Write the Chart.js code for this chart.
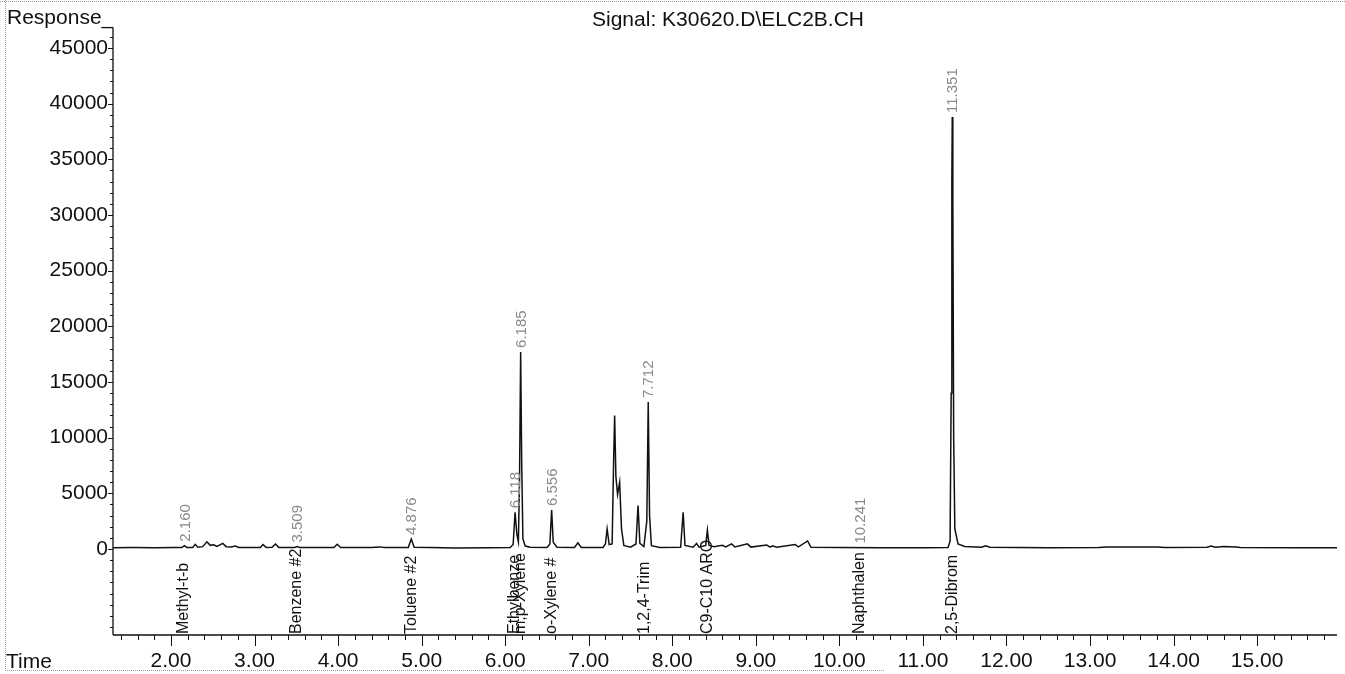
<!DOCTYPE html>
<html>
<head>
<meta charset="utf-8">
<script src="https://cdn.jsdelivr.net/npm/chart.js@4.4.0/dist/chart.umd.min.js"></script>
<style>
  html, body { margin: 0; padding: 0; background: #fff; }
  #wrap { position: relative; width: 1345px; height: 674px; }
</style>
</head>
<body>
<div id="wrap"><canvas id="chrom"></canvas></div>
<script>
// detector trace (time in min, response)
const traceTimes = [
  1.306, 1.55, 1.80, 2.05, 2.13, 2.16, 2.19, 2.26, 2.29, 2.32, 2.38, 2.43, 2.47, 2.51, 2.55,
  2.62, 2.66, 2.72, 2.77, 2.81, 3.00, 3.07, 3.10, 3.14, 3.21, 3.25, 3.29, 3.48, 3.509, 3.54,
  3.95, 3.99, 4.03, 4.40, 4.50, 4.55, 4.84, 4.876, 4.91, 5.10, 5.40, 5.80, 6.06, 6.095, 6.118,
  6.14, 6.158, 6.172, 6.185, 6.198, 6.212, 6.24, 6.30, 6.50, 6.535, 6.556, 6.575, 6.62, 6.83, 6.87,
  6.91, 7.17, 7.20, 7.22, 7.245, 7.28, 7.298, 7.31, 7.325, 7.345, 7.37, 7.392, 7.42, 7.50, 7.565,
  7.59, 7.612, 7.66, 7.695, 7.712, 7.728, 7.75, 7.85, 8.10, 8.13, 8.152, 8.25, 8.29, 8.32, 8.40,
  8.42, 8.44, 8.50, 8.60, 8.64, 8.71, 8.75, 8.90, 8.94, 9.13, 9.17, 9.20, 9.25, 9.47, 9.51,
  9.62, 9.66, 10.00, 10.50, 11.00, 11.30, 11.325, 11.338, 11.346, 11.351, 11.358, 11.368, 11.382, 11.42, 11.50,
  11.70, 11.75, 11.80, 12.50, 13.10, 13.20, 13.80, 13.90, 14.40, 14.45, 14.50, 14.60, 14.75, 14.80, 15.50,
  15.956
];
const traceResponses = [
  110, 125, 115, 130, 135, 300, 140, 145, 420, 160, 210, 650, 330, 380, 230,
  500, 210, 190, 270, 140, 125, 135, 400, 145, 150, 450, 145, 140, 220, 140,
  135, 420, 135, 140, 190, 135, 140, 900, 150, 125, 100, 110, 125, 400, 3300,
  1300, 650, 6500, 17700, 7500, 900, 260, 150, 135, 450, 3500, 600, 160, 145, 550,
  145, 135, 450, 1800, 400, 450, 8000, 12000, 6500, 4900, 6000, 1800, 320, 160, 450,
  3900, 500, 220, 2500, 13200, 3000, 300, 145, 160, 3300, 320, 160, 500, 160, 320,
  1700, 320, 210, 330, 180, 460, 180, 460, 170, 360, 160, 290, 150, 410, 200,
  720, 150, 125, 115, 120, 130, 700, 14000, 33000, 38800, 31000, 10000, 1800, 450, 220,
  150, 290, 150, 120, 140, 185, 175, 130, 150, 260, 165, 225, 175, 130, 120,
  120
];

// retention-time labels printed above peaks
const peakTimes = [2.160, 3.509, 4.876, 6.118, 6.185, 6.556, 7.712, 10.241, 11.351];
const peakTexts = ['2.160', '3.509', '4.876', '6.118', '6.185', '6.556', '7.712', '10.241', '11.351'];

// compound names printed under the baseline
const compoundTimes = [2.150, 3.509, 4.876, 6.118, 6.185, 6.556, 7.67, 8.42, 10.241, 11.355];
const compoundNames = ['Methyl-t-b', 'Benzene #2', 'Toluene #2', 'Ethylbenze', 'm,p-Xylene',
  'o-Xylene #', '1,2,4-Trim', 'C9-C10 ARO', 'Naphthalen', '2,5-Dibrom'];

const xTicks = [2, 3, 4, 5, 6, 7, 8, 9, 10, 11, 12, 13, 14, 15];
const yTicks = [0, 5000, 10000, 15000, 20000, 25000, 30000, 35000, 40000, 45000];

const FONT = "'Liberation Sans', Arial, Helvetica, sans-serif";

function topAt(t) {
  let best = null;
  traceTimes.forEach((tt, i) => {
    if (Math.abs(tt - t) < 0.02 && (best === null || traceResponses[i] > best)) best = traceResponses[i];
  });
  return best === null ? 130 : best;
}

const decor = {
  id: 'decor',
  afterDraw(chart) {
    const ctx = chart.ctx;
    const xs = chart.scales.x, ys = chart.scales.y;
    const a = chart.chartArea;
    ctx.save();

    // scan frame remnants
    ctx.strokeStyle = '#9a9a9a';
    ctx.lineWidth = 1;
    ctx.setLineDash([1, 1]);
    ctx.beginPath();
    ctx.moveTo(0, 1.5); ctx.lineTo(1345, 1.5);
    ctx.moveTo(5.5, 0); ctx.lineTo(5.5, 670);
    ctx.moveTo(5, 670.5); ctx.lineTo(885, 670.5);
    ctx.stroke();
    ctx.setLineDash([]);

    // axes
    ctx.strokeStyle = '#111';
    ctx.lineWidth = 1.3;
    ctx.beginPath();
    ctx.moveTo(a.left, a.top); ctx.lineTo(a.left, a.bottom);
    ctx.moveTo(a.left, a.bottom); ctx.lineTo(a.right, a.bottom);
    ctx.stroke();

    // x ticks: minor every 0.2, major every 1
    ctx.lineWidth = 1;
    ctx.beginPath();
    for (let k = 7; k <= 79; k++) {
      const px = Math.round(xs.getPixelForValue(k / 5)) + 0.5;
      const len = k % 5 === 0 ? 11 : 5;
      ctx.moveTo(px, a.bottom); ctx.lineTo(px, a.bottom + len);
    }
    // y ticks: minor every 1000, major every 5000
    for (let v = -7000; v <= 46000; v += 1000) {
      const py = Math.round(ys.getPixelForValue(v)) + 0.5;
      const len = v % 5000 === 0 && v >= 0 ? 5 : 3;
      ctx.moveTo(a.left - len, py); ctx.lineTo(a.left, py);
    }
    ctx.stroke();

    // header texts
    ctx.fillStyle = '#111';
    ctx.font = '21px ' + FONT;
    ctx.textBaseline = 'alphabetic';
    ctx.textAlign = 'left';
    ctx.fillText('Response_', 7, 24);
    ctx.fillText('Time', 6, 668);
    ctx.textAlign = 'center';
    ctx.fillText('Signal: K30620.D\\ELC2B.CH', (a.left + a.right) / 2 + 3, 26);

    // retention time labels
    ctx.fillStyle = '#8a8a8a';
    ctx.font = '15px ' + FONT;
    ctx.textAlign = 'left';
    ctx.textBaseline = 'middle';
    peakTimes.forEach((t, i) => {
      const px = xs.getPixelForValue(t) + 1;
      const py = ys.getPixelForValue(topAt(t)) - 4;
      ctx.save();
      ctx.translate(px, py);
      ctx.rotate(-Math.PI / 2);
      ctx.fillText(peakTexts[i], 0, 0);
      ctx.restore();
    });

    // compound names
    ctx.fillStyle = '#111';
    ctx.font = '16px ' + FONT;
    compoundTimes.forEach((t, i) => {
      const px = xs.getPixelForValue(t);
      ctx.save();
      ctx.translate(px, a.bottom - 1);
      ctx.rotate(-Math.PI / 2);
      ctx.fillText(compoundNames[i], 0, 0);
      ctx.restore();
    });

    ctx.restore();
  }
};

new Chart(document.getElementById('chrom'), {
  type: 'line',
  data: {
    datasets: [{
      label: 'ELC2B',
      data: traceTimes.map((t, i) => ({ x: t, y: traceResponses[i] })),
      borderColor: '#111',
      borderWidth: 1.5,
      pointRadius: 0,
      tension: 0,
      fill: false
    }]
  },
  options: {
    responsive: true,
    maintainAspectRatio: false,
    animation: false,
    layout: { padding: { top: 28, right: 8, left: 0, bottom: 0 } },
    plugins: { legend: { display: false }, tooltip: { enabled: false }, title: { display: false } },
    scales: {
      x: {
        type: 'linear',
        min: 1.3058,
        max: 15.956,
        afterBuildTicks: s => { s.ticks = xTicks.map(v => ({ value: v })); },
        afterFit: s => { s.height = 39; },
        grid: { display: false, drawTicks: false },
        border: { display: false },
        ticks: {
          callback: v => Number(v).toFixed(2),
          color: '#111',
          font: { family: FONT, size: 21 },
          padding: 14,
          maxRotation: 0,
          autoSkip: false
        }
      },
      y: {
        type: 'linear',
        min: -7725,
        max: 46796,
        afterBuildTicks: s => { s.ticks = yTicks.map(v => ({ value: v })); },
        afterFit: s => { s.width = 113; },
        grid: { display: false, drawTicks: false },
        border: { display: false },
        ticks: {
          callback: v => String(v),
          color: '#111',
          font: { family: FONT, size: 21 },
          padding: 5
        }
      }
    }
  },
  plugins: [decor]
});
</script>
</body>
</html>
